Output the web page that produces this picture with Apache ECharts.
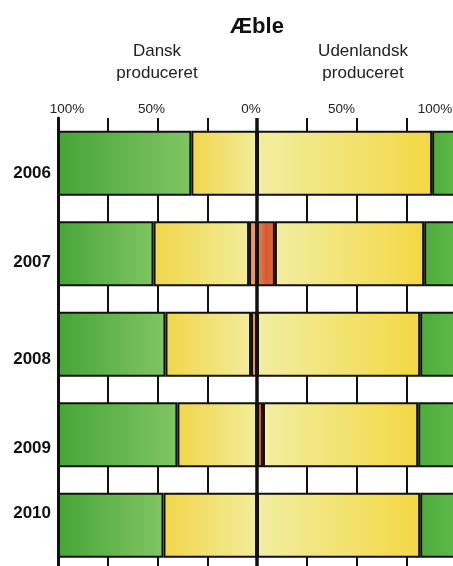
<!DOCTYPE html>
<html>
<head>
<meta charset="utf-8">
<script src="https://cdn.jsdelivr.net/npm/echarts@6/dist/echarts.min.js"></script>
<style>
html,body{margin:0;padding:0;background:#fff;overflow:hidden;width:453px;height:566px;}
#c{width:462px;height:580px;}
</style>
</head>
<body>
<div id="c"></div>
<script>
// ---- data ----
var years = ['2006', '2007', '2008', '2009', '2010'];
var dkGreen = [67, 48, 54, 60, 53];
var dkYellow = [33, 48, 43, 40, 47];
var dkOrange = [0, 4, 3, 0, 0];
var foreignOrange = [0, 9, 0, 3, 0];
var foreignYellow = [88, 75, 82, 78, 82];
var foreignGreen = [12, 16, 18, 19, 18];
var tickLabels = { '-100': '100%', '-50': '50%', '0': '0%', '50': '50%', '100': '100%' };

// ---- styles ----
var yearShift = [10, 9, 15, 14, -12];
var xLabelStyle = { '-100': 'a', '-50': 'b', '0': 'b', '50': 'c', '100': 'd' };

function grad(c1, c2, c3) {
  var stops = c3 ? [{offset:0,color:c1},{offset:0.5,color:c2},{offset:1,color:c3}]
                 : [{offset:0,color:c1},{offset:1,color:c2}];
  return { type: 'linear', x: 0, y: 0, x2: 1, y2: 0, colorStops: stops };
}
var border = { borderColor: '#111', borderWidth: 2 };
function neg(arr) { return arr.map(function (v) { return -v; }); }
function bar(name, data, color, extra) {
  var s = {
    name: name, type: 'bar', stack: 'all', data: data, barWidth: 65,
    itemStyle: Object.assign({ color: color }, border),
    emphasis: { disabled: true }, animation: false
  };
  return Object.assign(s, extra || {});
}

var yRich = {};
yearShift.forEach(function (s, i) {
  yRich['y' + i] = {
    fontFamily: 'Liberation Sans', fontWeight: 'bold', fontSize: 17, color: '#111',
    padding: s >= 0 ? [2 * s, 0, 0, 0] : [0, 0, -2 * s, 0]
  };
});
var xFont = { fontFamily: 'Liberation Sans', fontSize: 13.5, color: '#222' };
var xRich = {
  a: Object.assign({ padding: [0, 0, 0, 18] }, xFont),
  b: Object.assign({ padding: [0, 12, 0, 0] }, xFont),
  c: Object.assign({ padding: [0, 30, 0, 0] }, xFont),
  d: Object.assign({ padding: [0, 42, 0, 0] }, xFont)
};

var chart = echarts.init(document.getElementById('c'));
chart.setOption({
  backgroundColor: '#fff',
  animation: false,
  title: [
    { text: 'Æble', left: 252, top: 11, textAlign: 'center',
      textStyle: { fontFamily: 'Liberation Sans', fontWeight: 'bold', fontSize: 22, color: '#111' } },
    { text: 'Dansk\nproduceret', left: 152, top: 35, textAlign: 'center',
      textStyle: { fontFamily: 'Liberation Sans', fontWeight: 'normal', fontSize: 17, lineHeight: 22, color: '#222' } },
    { text: 'Udenlandsk\nproduceret', left: 358, top: 35, textAlign: 'center',
      textStyle: { fontFamily: 'Liberation Sans', fontWeight: 'normal', fontSize: 17, lineHeight: 22, color: '#222' } }
  ],
  grid: { left: 58, top: 118, width: 398, height: 452.5, containLabel: false },
  xAxis: {
    type: 'value', position: 'top', min: -100, max: 100, interval: 25,
    axisLine: { show: false }, axisTick: { show: false },
    axisLabel: {
      margin: 2,
      formatter: function (v) {
        var t = tickLabels[String(v)];
        return t ? '{' + xLabelStyle[String(v)] + '|' + t + '}' : '';
      },
      rich: xRich
    },
    splitLine: { show: true, lineStyle: { color: '#111', width: 2 } }
  },
  yAxis: {
    type: 'category', data: years, inverse: true,
    axisLine: { show: true, onZero: false, lineStyle: { color: '#111', width: 3 } },
    axisTick: { show: false },
    axisLabel: {
      margin: 7,
      formatter: function (v, i) { return '{y' + i + '|' + v + '}'; },
      rich: yRich
    }
  },
  series: [
    bar('Dansk orange', neg(dkOrange), '#ea975c'),
    bar('Dansk gul', neg(dkYellow), grad('#f1d64a', '#f2ec9a')),
    bar('Dansk grøn', neg(dkGreen), grad('#47a537', '#80c563')),
    bar('Udenlandsk orange', foreignOrange, grad('#e58a50', '#d65a34', '#df6d3e')),
    bar('Udenlandsk gul', foreignYellow, grad('#f2eea2', '#f3d743')),
    bar('Udenlandsk grøn', foreignGreen, grad('#4dac3c', '#5fb84a'), {
      markLine: {
        silent: true, symbol: 'none', animation: false,
        label: { show: false },
        lineStyle: { color: '#111', width: 3.5, type: 'solid' },
        data: [{ xAxis: 0 }]
      }
    })
  ]
});
</script>
</body>
</html>
